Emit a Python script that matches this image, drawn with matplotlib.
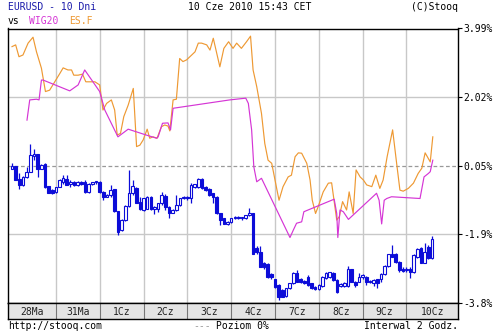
import matplotlib
matplotlib.use('Agg')
import matplotlib.pyplot as plt

# EURUSD 2h candles, % change (open, high, low, close)
eur_open = [-0.03, 0.04, -0.34, -0.51, -0.27, -0.12, 0.33, 0.40, -0.03, 0.09,
            -0.53, -0.65, -0.70, -0.55, -0.41, -0.34, -0.46, -0.41, -0.51, -0.43,
            -0.41, -0.70, -0.48, -0.43, -0.41, -0.70, -0.84, -0.79, -0.63, -1.25,
            -1.80, -1.51, -1.11, -0.74, -0.58, -0.99, -1.22, -1.18, -0.84, -1.20,
            -1.18, -1.03, -0.82, -1.13, -1.30, -1.22, -1.08, -0.89, -0.84, -0.89,
            -0.55, -0.55, -0.34, -0.55, -0.63, -0.74, -0.84, -1.32, -1.46, -1.61,
            -1.56, -1.46, -1.41, -1.46, -1.46, -1.37, -1.32, -2.30, -2.42, -2.73,
            -2.77, -3.06, -3.21, -3.38, -3.52, -3.69, -3.47, -3.33, -3.02, -3.19,
            -3.26, -3.14, -3.33, -3.42, -3.50, -3.40, -3.16, -3.14, -3.04, -3.23,
            -3.40, -3.40, -3.40, -2.92, -3.28, -3.28, -3.14, -3.14, -3.26, -3.31,
            -3.21, -3.21, -3.06, -2.83, -2.47, -2.47, -2.71, -2.90, -2.94, -2.90,
            -2.99, -2.56, -2.30, -2.73, -2.28, -2.61]
eur_close = [0.04, -0.36, -0.51, -0.27, -0.12, 0.36, 0.40, -0.03, 0.07, -0.57,
             -0.73, -0.74, -0.57, -0.36, -0.31, -0.49, -0.41, -0.51, -0.41, -0.48,
             -0.70, -0.46, -0.43, -0.41, -0.70, -0.84, -0.79, -0.65, -1.25, -1.85,
             -1.51, -1.11, -0.74, -0.53, -1.01, -1.20, -0.89, -0.84, -1.20, -1.13,
             -1.01, -0.79, -1.13, -1.30, -1.22, -1.08, -0.89, -0.84, -0.89, -0.51,
             -0.48, -0.34, -0.60, -0.65, -0.79, -0.84, -1.32, -1.51, -1.61, -1.56,
             -1.46, -1.41, -1.46, -1.44, -1.37, -1.30, -2.47, -2.42, -2.85, -2.87,
             -3.14, -3.14, -3.44, -3.71, -3.71, -3.47, -3.33, -3.02, -3.28, -3.28,
             -3.33, -3.38, -3.47, -3.50, -3.38, -3.14, -3.02, -3.01, -3.23, -3.57,
             -3.35, -3.31, -2.92, -3.28, -3.38, -3.14, -3.09, -3.28, -3.28, -3.23,
             -3.31, -3.06, -2.83, -2.49, -2.56, -2.71, -2.95, -2.97, -2.90, -2.99,
             -2.52, -2.35, -2.73, -2.42, -2.61, -2.04]
eur_high = [0.12, 0.05, -0.17, -0.25, 0.02, 0.67, 0.52, 0.40, 0.10, 0.12,
            -0.52, -0.63, -0.55, -0.34, -0.22, -0.22, -0.36, -0.38, -0.38, -0.40,
            -0.36, -0.44, -0.41, -0.38, -0.38, -0.68, -0.77, -0.51, -0.63, -1.25,
            -1.49, -1.09, -0.07, -0.36, -0.55, -0.84, -0.87, -0.82, -0.82, -1.11,
            -1.01, -0.70, -0.77, -1.11, -1.20, -0.79, -0.87, -0.82, -0.82, -0.44,
            -0.46, -0.31, -0.29, -0.53, -0.60, -0.72, -0.82, -1.30, -1.44, -1.54,
            -1.44, -1.39, -1.39, -1.41, -1.35, -1.15, -1.30, -2.26, -2.26, -2.70,
            -2.75, -3.04, -3.19, -3.35, -3.50, -3.46, -3.31, -2.99, -2.95, -3.17,
            -3.23, -3.09, -3.31, -3.40, -3.35, -3.11, -2.99, -2.99, -3.01, -3.21,
            -3.33, -3.28, -2.83, -2.90, -3.26, -3.02, -3.07, -3.11, -3.23, -3.21,
            -3.19, -3.04, -2.80, -2.47, -2.23, -2.45, -2.68, -2.87, -2.85, -2.87,
            -2.49, -2.32, -2.28, -2.18, -2.23, -1.97]
eur_low = [-0.04, -0.37, -0.63, -0.52, -0.31, -0.12, 0.21, -0.27, -0.05, -0.60,
           -0.74, -0.77, -0.72, -0.56, -0.46, -0.51, -0.55, -0.53, -0.53, -0.50,
           -0.72, -0.72, -0.50, -0.46, -0.72, -0.92, -0.86, -0.84, -1.27, -1.95,
           -1.82, -1.53, -1.13, -0.79, -1.03, -1.22, -1.24, -1.20, -1.22, -1.34,
           -1.27, -1.08, -1.22, -1.46, -1.32, -1.25, -1.10, -0.91, -0.94, -1.03,
           -0.58, -0.58, -0.62, -0.67, -0.82, -1.01, -1.34, -1.65, -1.63, -1.65,
           -1.58, -1.49, -1.49, -1.51, -1.49, -1.40, -2.49, -2.49, -2.87, -2.90,
           -3.16, -3.19, -3.46, -3.79, -3.73, -3.71, -3.49, -3.35, -3.30, -3.33,
           -3.35, -3.40, -3.49, -3.52, -3.52, -3.42, -3.19, -3.16, -3.26, -3.59,
           -3.42, -3.42, -3.42, -3.30, -3.43, -3.30, -3.21, -3.38, -3.31, -3.40,
           -3.45, -3.28, -3.09, -2.85, -2.58, -2.73, -2.99, -2.99, -3.01, -3.16,
           -3.04, -2.61, -2.75, -2.75, -2.64, -2.64]

# ES.F line (x in 2h-bar units, % change)
es_x = [0, 1.0, 1.9, 3.0, 4.4, 5.75, 6.7, 8.05, 9.15, 10.3,
        11.7, 13.1, 14.0, 15.3, 16.3, 16.9, 18.1, 19.3, 20.2, 22.7,
        24.0, 24.9, 25.9, 27.2, 28.1, 28.8, 29.7, 30.6, 31.8, 33.2,
        34.1, 35.0, 35.9, 37.0, 37.7, 38.6, 39.7, 40.9, 41.8, 42.7,
        43.2, 44.1, 45.0, 45.9, 46.8, 47.8, 49.2, 50.1, 51.0, 51.9,
        53.3, 54.2, 55.1, 56.9, 58.0, 59.3, 60.5, 61.5, 62.8, 64.2,
        65.3, 66.0, 67.0, 68.3, 69.2, 70.1, 71.1, 72.0, 73.1, 74.2,
        75.6, 76.5, 77.5, 78.4, 79.3, 80.7, 81.6, 82.2, 83.1, 83.8,
        85.2, 86.6, 87.5, 88.9, 89.6, 90.5, 91.6, 92.3, 93.4, 94.2,
        95.3, 96.2, 97.1, 98.5, 99.6, 100.7, 101.6, 102.7, 104.2, 105.3,
        106.2, 107.1, 108.5, 109.9, 111.2, 112.2, 113.1, 113.7, 114.5, 115.2]
es_y = [3.47, 3.52, 3.18, 3.23, 3.57, 3.74, 3.32, 2.85, 2.18, 2.22,
        2.46, 2.70, 2.86, 2.80, 2.80, 2.65, 2.65, 2.68, 2.46, 2.46,
        2.37, 1.65, 1.84, 1.94, 1.65, 0.93, 0.98, 1.46, 1.79, 2.27,
        0.60, 0.64, 0.79, 1.10, 0.84, 0.88, 0.84, 1.17, 1.22, 1.19,
        1.05, 1.94, 1.96, 3.13, 3.04, 3.09, 3.23, 3.32, 3.57, 3.57,
        3.52, 3.37, 3.71, 2.89, 3.42, 3.61, 3.42, 3.57, 3.42, 3.61,
        3.77, 2.80, 2.32, 1.55, 0.69, 0.21, 0.12, -0.36, -0.94, -0.55,
        -0.27, -0.22, 0.31, 0.42, 0.41, 0.12, -0.36, -0.94, -1.32, -1.13,
        -0.70, -0.45, -0.44, -1.51, -1.41, -0.98, -1.22, -0.70, -1.32, -0.07,
        -0.27, -0.36, -0.50, -0.55, -0.22, -0.60, -0.36, 0.31, 1.08, 0.12,
        -0.65, -0.68, -0.60, -0.45, -0.17, -0.02, 0.42, 0.31, 0.16, 0.88]

# WIG20 line
wig_x = [4.1, 4.85, 6.7, 7.4, 8.05, 8.5, 15.8, 18.1, 19.9, 24.0,
         25.4, 29.0, 31.8, 36.8, 39.6, 40.0, 41.2, 42.7, 43.4, 44.1,
         59.6, 64.0, 64.7, 65.6, 66.2, 67.0, 68.3, 76.1, 77.0, 77.9,
         79.3, 79.9, 88.2, 88.9, 89.2, 89.8, 90.7, 92.1, 99.8, 100.5,
         101.2, 101.9, 102.6, 103.9, 111.7, 112.8, 114.0, 114.5, 115.2]
wig_y = [1.36, 1.94, 1.96, 1.94, 2.51, 2.51, 2.20, 2.37, 2.80, 2.18,
         1.65, 0.88, 1.10, 0.93, 0.84, 0.88, 1.27, 1.28, 1.08, 1.70,
         1.94, 1.99, 1.84, 1.08, 0.02, -0.41, -0.31, -2.01, -1.80, -1.60,
         -1.56, -1.27, -0.91, -1.32, -2.01, -1.22, -1.27, -1.49, -0.74, -0.94,
         -1.62, -0.94, -0.89, -0.84, -0.89, -0.27, -0.17, -0.12, 0.21]

day_labels = ['28Ma', '31Ma', '1Cz', '2Cz', '3Cz', '4Cz', '7Cz', '8Cz', '9Cz', '10Cz']
day_bounds = [12, 24, 36, 48, 60, 72, 84, 96, 108]
y_ticks = [3.99, 2.02, 0.05, -1.92, -3.89]
y_labels = ['3.99%', '2.02%', '0.05%', '-1.9%', '-3.8%']

BLUE = '#0c0cd8'
ORANGE = '#ee9933'
MAGENTA = '#d535d5'
GRID = '#c8c8c8'
FONT = 'DejaVu Sans Mono'
FS = 7

W, H = 500, 333
fig = plt.figure(figsize=(W / 100, H / 100), dpi=100)
fig.patch.set_facecolor('white')

XL = (-1.1, 122.1)
ax = fig.add_axes([8 / W, 1 - 303 / H, 450 / W, 274.5 / H])
ax.set_xlim(*XL)
ax.set_ylim(-3.89, 3.99)

for b in day_bounds:
    ax.axvline(b, color=GRID, lw=1, zorder=0)
for t in (2.02, -1.92):
    ax.axhline(t, color=GRID, lw=1, zorder=0)
ax.axhline(0.05, color='#999999', lw=0.9, ls=(0, (3, 2)), zorder=0.5)

ax.plot(es_x, es_y, color=ORANGE, lw=0.85, zorder=2)
ax.plot(wig_x, wig_y, color=MAGENTA, lw=0.85, zorder=2)

# candles
xs = list(range(len(eur_close)))
ax.vlines(xs, eur_low, eur_high, color=BLUE, lw=0.9, zorder=3)
for i in xs:
    o, c = eur_open[i], eur_close[i]
    face = 'white' if c >= o else BLUE
    h = c - o
    if abs(h) < 0.04:
        h = 0.04 if h >= 0 else -0.04
    ax.bar(i, h, bottom=o, width=0.72, facecolor=face, edgecolor=BLUE,
           lw=0.8, zorder=4)

ax.set_xticks([])
ax.yaxis.tick_right()
ax.set_yticks(y_ticks)
ax.set_yticklabels(y_labels, fontsize=FS, family=FONT)
ax.tick_params(axis='y', length=3, width=0.8, pad=1, color='black')
for s in ax.spines.values():
    s.set_color('black')
    s.set_linewidth(1)

# date strip
dax = fig.add_axes([8 / W, 1 - 318.5 / H, 450 / W, 15.5 / H])
dax.set_xlim(*XL)
dax.set_ylim(0, 1)
dax.set_facecolor('#e4e4e4')
dax.set_xticks([])
dax.set_yticks([])
for s in dax.spines.values():
    s.set_color('black')
    s.set_linewidth(1)
edges = [XL[0]] + day_bounds + [XL[1]]
for b in day_bounds:
    dax.axvline(b, color='#777777', lw=0.8)
for k, lab in enumerate(day_labels):
    dax.text((edges[k] + edges[k + 1]) / 2, 0.45, lab, ha='center', va='center',
             fontsize=FS, family=FONT, color='#222222')


def ftext(x, y, s, color='black', ha='left'):
    fig.text(x / W, 1 - y / H, s, ha=ha, va='center', fontsize=FS,
             family=FONT, color=color)


ftext(8, 7, 'EURUSD - 10 Dni', color='#1a1aaa')
ftext(188, 7, '10 Cze 2010 15:43 CET')
ftext(411, 7, '(C)Stooq')
ftext(8, 21, 'vs')
ftext(29, 21, 'WIG20', color=MAGENTA)
ftext(69, 21, 'ES.F', color=ORANGE)
ftext(8, 326, 'http://stooq.com')
ftext(193, 326, '---', color='#999999')
ftext(216, 326, 'Poziom 0%')
ftext(458, 326, 'Interwal 2 Godz.', ha='right')

fig.savefig('out.png', dpi=100, facecolor='white')
